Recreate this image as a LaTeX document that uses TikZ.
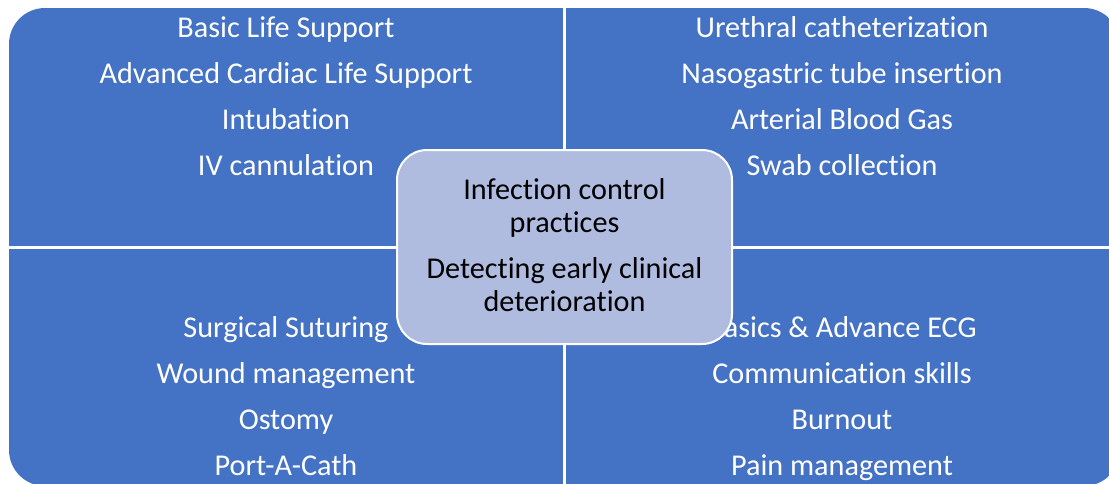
\documentclass[tikz,border=0pt]{standalone}
\usepackage{fontspec}
\setmainfont{Carlito}[Ligatures=NoCommon]
\usetikzlibrary{positioning}
\definecolor{quadBlue}{RGB}{68,114,196}
\definecolor{coreFill}{RGB}{176,188,223}

\begin{document}
\begin{tikzpicture}[x=1pt, y=-1pt,
  skills/.style={text=white, align=center, anchor=base, inner sep=0pt,
                 font=\fontsize{30.2}{46}\selectfont},
  coretext/.style={text=black, align=center, anchor=base, inner sep=0pt,
                 font=\fontsize{30.2}{33}\selectfont}]

\useasboundingbox (0,0) rectangle (1109,483);

% ---- Four quadrants (one rounded block, split by white gaps) ----
\begin{scope}
  \clip[rounded corners=36pt] (9,8) rectangle (1120,486);
  \fill[quadBlue] (9,8) rectangle (1120,486);
\end{scope}
\draw[white, line width=3pt] (564.5,8) -- (564.5,486);
\draw[white, line width=3pt] (9,247) -- (1120,247);

% ---- Quadrant texts (base = last line) ----
\node[skills] (skillsTL) at (286,175)
  {Basic Life Support\\Advanced Cardiac Life Support\\Intubation\\IV cannulation};
\node[skills] (skillsTR) at (842,175)
  {Urethral catheterization\\Nasogastric tube insertion\\Arterial Blood Gas\\Swab collection};
\node[skills] (skillsBL) at (286,475)
  {Surgical Suturing\\Wound management\\Ostomy\\Port-A-Cath};
\node[skills] (skillsBR) at (842,475)
  {Basics \& Advance ECG\\Communication skills\\Burnout\\Pain management};

% ---- Central box ----
\node[draw=white, line width=2pt, fill=coreFill, rounded corners=30pt,
      minimum width=335pt, minimum height=194pt] (core) at (564.5,247) {};
\node[coretext] (coreText) at (564.5,311)
  {Infection control\\practices\\[13pt]Detecting early clinical\\deterioration};

\end{tikzpicture}
\end{document}
